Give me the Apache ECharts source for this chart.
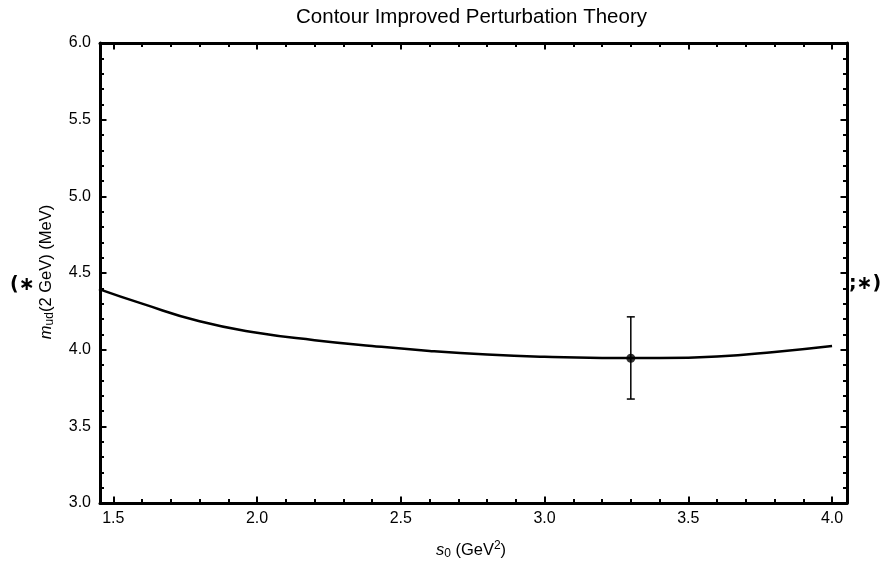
<!DOCTYPE html>
<html>
<head>
<meta charset="utf-8">
<script src="https://cdn.jsdelivr.net/npm/echarts@6/dist/echarts.min.js"></script>
<style>
html,body{margin:0;padding:0;background:#fff;}
#c{width:886px;height:569px;}
</style>
</head>
<body>
<div id="c"></div>
<script>
// ---- data ----
var sValues = [1.45, 1.6, 1.8, 2.0, 2.2, 2.4, 2.6, 2.8, 3.0, 3.2, 3.4, 3.6, 3.8, 4.0];
var mValues = [4.395, 4.300, 4.185, 4.110, 4.062, 4.024, 3.992, 3.968, 3.953, 3.946, 3.945, 3.955, 3.985, 4.024];
var pointS = [3.3];
var pointM = [3.944];
var pointLow = [3.678];
var pointHigh = [4.214];
var xTickLabels = [1.5, 2.0, 2.5, 3.0, 3.5, 4.0];
var yTickLabels = [3.0, 3.5, 4.0, 4.5, 5.0, 5.5, 6.0];
var titleText = 'Contour Improved Perturbation Theory';

// ---- layout ----
var xMin = 1.4536, xMax = 4.052, yMin = 3.0, yMax = 6.0;
function minors(majors, lo, hi) {
  var out = [];
  for (var v = Math.ceil(lo * 10); v <= Math.floor(hi * 10); v++) {
    var val = v / 10;
    var isMajor = majors.some(function (m) { return Math.abs(m - val) < 1e-6; });
    if (!isMajor) out.push(val);
  }
  return out;
}
var xMinor = minors(xTickLabels, xMin, xMax);
var yMinor = minors(yTickLabels, yMin, yMax);

var font = 'Liberation Sans, Arial, sans-serif';
var lineCol = '#000';

function xAx(pos, vals, len, showLine, showLabel) {
  return {
    type: 'value', position: pos, min: xMin, max: xMax,
    axisLine: {show: showLine, onZero: false, lineStyle: {color: lineCol, width: 3}},
    axisTick: {show: true, inside: true, customValues: vals, length: len, lineStyle: {color: lineCol, width: 2}},
    axisLabel: {show: showLabel, customValues: vals, color: '#000', fontSize: 16, fontFamily: font, margin: 8,
      formatter: function (v) { return v.toFixed(1); }},
    splitLine: {show: false}
  };
}
function yAx(pos, vals, len, showLine, showLabel) {
  return {
    type: 'value', position: pos, min: yMin, max: yMax,
    axisLine: {show: showLine, onZero: false, lineStyle: {color: lineCol, width: 3}},
    axisTick: {show: true, inside: true, customValues: vals, length: len, lineStyle: {color: lineCol, width: 2}},
    axisLabel: {show: showLabel, customValues: vals, color: '#000', fontSize: 16, fontFamily: font, margin: 9,
      formatter: function (v) { return v.toFixed(1); }},
    splitLine: {show: false}
  };
}

var chart = echarts.init(document.getElementById('c'), null, {renderer: 'canvas'});
var curve = sValues.map(function (s, i) { return [s, mValues[i]]; });
var points = pointS.map(function (s, i) { return [s, pointM[i]]; });
var errs = pointS.map(function (s, i) { return [s, pointLow[i], pointHigh[i]]; });

chart.setOption({
  animation: false,
  backgroundColor: '#fff',
  grid: {left: 100, right: 39, top: 43, bottom: 66, containLabel: false},
  xAxis: [
    xAx('bottom', xTickLabels, 6.5, true, true),
    xAx('bottom', xMinor, 4, false, false),
    xAx('top', xTickLabels, 6.5, true, false),
    xAx('top', xMinor, 4, false, false)
  ],
  yAxis: [
    yAx('left', yTickLabels, 6.5, true, true),
    yAx('left', yMinor, 4, false, false),
    yAx('right', yTickLabels, 6.5, true, false),
    yAx('right', yMinor, 4, false, false)
  ],
  series: [
    {
      type: 'line', data: curve, smooth: 0.5, symbol: 'none',
      lineStyle: {color: '#000', width: 2.5}, xAxisIndex: 0, yAxisIndex: 0
    },
    {
      type: 'custom', data: errs, xAxisIndex: 0, yAxisIndex: 0,
      renderItem: function (params, api) {
        var x = api.value(0);
        var lo = api.coord([x, api.value(1)]);
        var hi = api.coord([x, api.value(2)]);
        var w = 4;
        var st = {stroke: '#000', lineWidth: 1.5};
        return {type: 'group', children: [
          {type: 'line', shape: {x1: lo[0], y1: lo[1], x2: hi[0], y2: hi[1]}, style: st},
          {type: 'line', shape: {x1: lo[0] - w, y1: lo[1], x2: lo[0] + w, y2: lo[1]}, style: st},
          {type: 'line', shape: {x1: hi[0] - w, y1: hi[1], x2: hi[0] + w, y2: hi[1]}, style: st}
        ]};
      }
    },
    {
      type: 'scatter', data: points, symbol: 'circle', symbolSize: 9,
      itemStyle: {color: '#000'}, xAxisIndex: 0, yAxisIndex: 0
    }
  ],
  graphic: [
    {type: 'text', x: 471.5, y: 17, style: {text: titleText, fontSize: 20.5, fontFamily: font, fill: '#000', align: 'center', verticalAlign: 'middle'}},
    {type: 'text', x: 471, y: 550, style: {
      text: '{i|s}{sub|0}{n| (GeV}{sup|2}{n|)}',
      align: 'center', verticalAlign: 'middle',
      rich: {
        i: {fontStyle: 'italic', fontSize: 16.5, fontFamily: font, fill: '#000', lineHeight: 22},
        n: {fontSize: 16.5, fontFamily: font, fill: '#000', lineHeight: 22},
        sub: {fontSize: 12, fontFamily: font, fill: '#000', lineHeight: 22, padding: [8, 0, 0, 0]},
        sup: {fontSize: 12, fontFamily: font, fill: '#000', lineHeight: 22, padding: [0, 0, 8, 0]}
      }
    }},
    {type: 'text', x: 46, y: 272, rotation: Math.PI / 2, style: {
      text: '{i|m}{sub|ud}{n|(2 GeV) (MeV)}',
      align: 'center', verticalAlign: 'middle',
      rich: {
        i: {fontStyle: 'italic', fontSize: 16.5, fontFamily: font, fill: '#000', lineHeight: 22},
        n: {fontSize: 16.5, fontFamily: font, fill: '#000', lineHeight: 22},
        sub: {fontSize: 12, fontFamily: font, fill: '#000', lineHeight: 22, padding: [8, 0, 0, 0]}
      }
    }},
    {type: 'text', x: 10, y: 285, style: {text: '(\u2217', fontSize: 19, fontWeight: 'bold', fontFamily: 'DejaVu Sans', fill: '#000', align: 'left', verticalAlign: 'middle'}},
    {type: 'text', x: 849, y: 284, style: {text: ';\u2217)', fontSize: 19, fontWeight: 'bold', fontFamily: 'DejaVu Sans', fill: '#000', align: 'left', verticalAlign: 'middle'}}
  ]
});
</script>
</body>
</html>
